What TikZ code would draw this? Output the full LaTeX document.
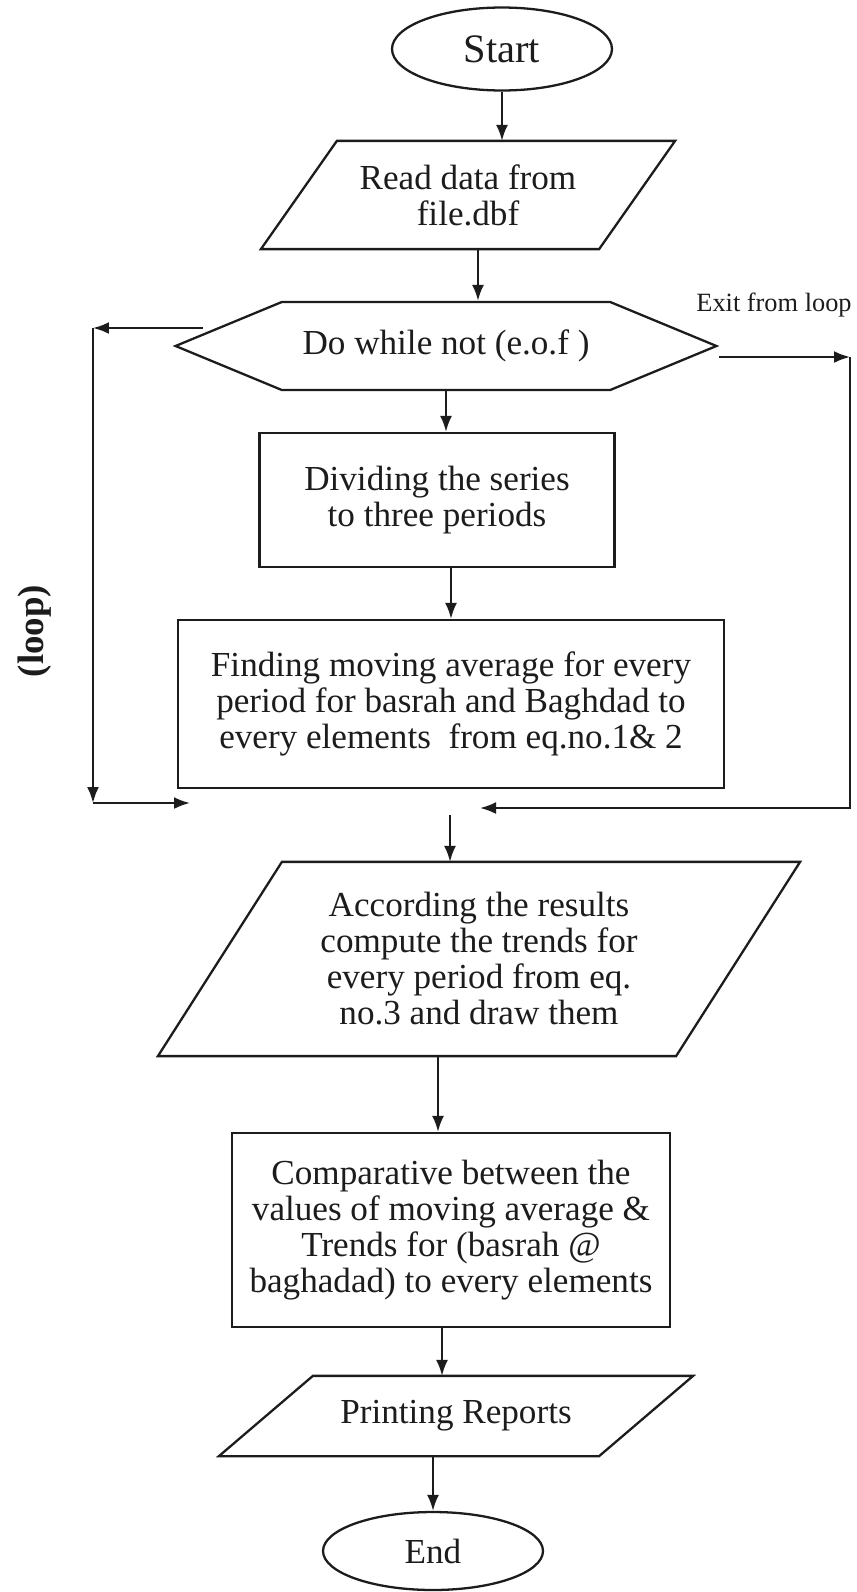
\documentclass[tikz,border=0pt]{standalone}
\usepackage{fontspec}
\setmainfont{Liberation Serif}
\usepackage{tikz}
\usetikzlibrary{arrows.meta,shapes.geometric,shapes.symbols}
\definecolor{fcInk}{HTML}{1C1C1C}
\tikzset{
  fc diagram/.style={x=0.02cm, y=-0.02cm, font=\fontsize{20}{20.5}\selectfont,
    text=fcInk, line join=miter},
  fc shape/.style={draw=fcInk, line width=1.3pt, align=center, inner sep=2pt},
  fc box/.style={fc shape, rectangle},
  fc io/.style={fc shape, rectangle, draw=none},
  fc outline/.style={draw=fcInk, line width=1.3pt},
  fc term/.style={fc shape, ellipse, inner sep=0pt},
  fc test/.style={fc shape, signal, signal to=east and west, signal pointer angle=45},
  fc arrow/.style={-{Latex[length=3.2mm,width=2.4mm]}, draw=fcInk, line width=1.3pt},
  fc label/.style={font=\fontsize{15}{16}\selectfont, text=fcInk}
}
\newcommand{\ioframe}[2]{\draw[fc outline] ([xshift=-#2]#1.south west) -- ([xshift=#2]#1.north west)
  -- ([xshift=#2]#1.north east) -- ([xshift=-#2]#1.south east) -- cycle;}
\begin{document}
\begin{tikzpicture}[fc diagram]
\useasboundingbox[fill=white] (0,0) rectangle (856,1592);
\node[fc term,minimum width=4.4cm,minimum height=1.66cm,font=\fontsize{23}{24}\selectfont] (start) at (502,49) {Start};
\node[fc io,minimum width=6.72cm,minimum height=2.12cm] (read) at (468,195) {Read data from\\file.dbf};
\node[fc test,minimum width=10.82cm,minimum height=1.76cm] (test) at (446,346) {Do while not (e.o.f )};
\node[fc box,minimum width=7.1cm,minimum height=2.68cm] (divide) at (437,500) {Dividing the series\\to three periods};
\node[fc box,minimum width=10.92cm,minimum height=3.36cm] (moving) at (451,704) {Finding moving average for every\\period for basrah and Baghdad to\\every elements~ from eq.no.1\& 2};
\node[fc io,minimum width=10.32cm,minimum height=3.84cm] (trend) at (479,959) {According the results\\compute the trends for\\every period from eq.\\no.3 and draw them};
\node[fc box,minimum width=8.76cm,minimum height=3.88cm] (compare) at (451,1230) {Comparative between the\\values of moving average \&\\Trends for (basrah @\\baghadad) to every elements};
\node[fc io,minimum width=7.56cm,minimum height=1.56cm] (report) at (456,1416) {Printing Reports};
\node[fc term,minimum width=4.4cm,minimum height=1.56cm] (stop) at (433,1551) {End};
\ioframe{read}{0.76cm}
\ioframe{trend}{1.24cm}
\ioframe{report}{0.94cm}
\node[fc label] (exitlbl) at (774,305) {Exit from loop};
\node[fc label,font=\bfseries\fontsize{21}{22}\selectfont,rotate=90] (looplbl) at (35,631) {(loop)};
\path (test.west) ++(30,-18) coordinate (exitL);
\path (test.east) ++(0,11) coordinate (exitR);
\coordinate (loopTL) at (93,328);
\coordinate (loopBL) at (93,803);
\coordinate (backL) at (190,803);
\coordinate (loopTR) at (850,357);
\coordinate (loopBR) at (850,808);
\coordinate (backR) at (480,808);
\coordinate (merge) at (450,815);
\draw[fc arrow] (start) -- (start |- read.north);
\draw[fc arrow] ([xshift=0.2cm]read.south) -- ([xshift=0.2cm]read.south |- test.north);
\draw[fc arrow] (test.south) -- (test.south |- divide.north);
\draw[fc arrow] (moving.north |- divide.south) -- (moving.north);
\draw[fc arrow] (merge) -- (merge |- trend.north);
\draw[fc arrow] ([xshift=-0.26cm]compare.north |- trend.south) -- ([xshift=-0.26cm]compare.north);
\draw[fc arrow] ([xshift=-0.18cm]compare.south) -- ([xshift=-0.18cm]compare.south |- report.north);
\draw[fc arrow] (stop.north |- report.south) -- (stop);
\draw[fc arrow] (exitL) -- (loopTL);
\draw[fc arrow] (loopTL) -- (loopBL);
\draw[fc arrow] (loopBL) -- (backL);
\draw[fc arrow] (exitR) -- (loopTR);
\draw[fc arrow] (loopTR) -- (loopBR) -- (backR);
\end{tikzpicture}
\end{document}
